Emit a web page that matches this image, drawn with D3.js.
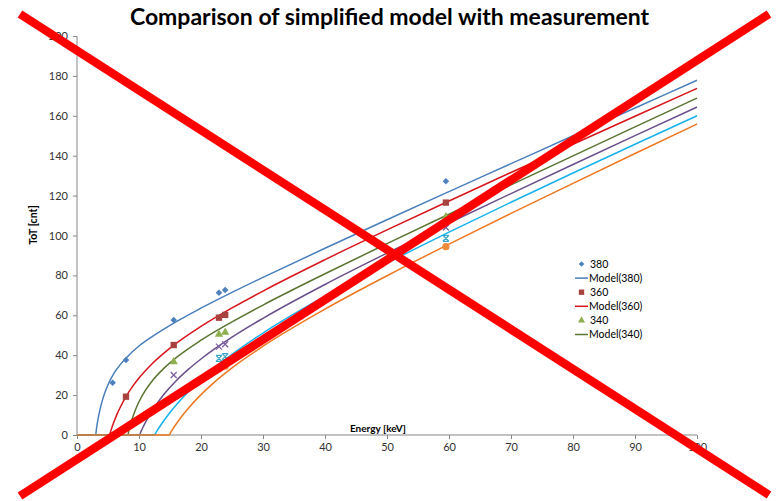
<!DOCTYPE html>
<html>
<head>
<meta charset="utf-8">
<script src="https://cdn.jsdelivr.net/npm/d3@7"></script>
<style>
  html, body { margin: 0; padding: 0; background: #fff; }
  svg { display: block; font-family: Lato, "Open Sans", sans-serif; }
</style>
</head>
<body>
<svg id="chart" width="777" height="501"></svg>
<script>
// ---- data -------------------------------------------------------------
const chartTitle = "Comparison of simplified model with measurement";
const xLabel = "Energy [keV]";
const yLabel = "ToT [cnt]";
const xTicks = [0, 10, 20, 30, 40, 50, 60, 70, 80, 90, 100];
const yTicks = [0, 20, 40, 60, 80, 100, 120, 140, 160, 180, 200];

// measured ToT per energy line [keV, ToT]
const meas380 = [[5.75, 26.2], [7.9, 37.6], [15.6, 57.6], [22.9, 71.3], [23.9, 72.7], [59.5, 127.2]];
const meas360 = [[7.9, 19.2], [15.6, 45.1], [22.9, 58.8], [23.9, 60.2], [59.5, 116.5]];
const meas340 = [[15.6, 36.7], [22.9, 50.5], [23.9, 51.5], [59.5, 109.4]];
const meas320 = [[15.6, 30.1], [22.9, 44.3], [23.9, 45.5], [59.5, 104.0]];
const meas300 = [[22.9, 38.4], [23.9, 39.3], [59.5, 98.6]];
const meas280 = [[22.9, 33.5], [23.9, 34.5], [59.5, 94.4]];

// model curves [keV, ToT]
const model380 = [[0, 0], [3.0, 0], [3.15, 3.35], [3.3, 6.27], [3.5, 9.67], [3.7, 12.6], [4.0, 16.34], [4.5, 21.3],
  [5, 25.2], [6, 31.1], [7, 35.4], [8, 38.9], [10, 44.6], [12, 49.1], [15, 55.0], [20, 63.6], [25, 71.5],
  [30, 79.0], [40, 93.6], [50, 107.9], [60, 122.0], [70, 136.0], [80, 150.0], [90, 163.9], [100, 177.8]];
const model360 = [[0, 0], [5.24, 0], [5.4, 1.56], [5.6, 3.44], [5.8, 5.21], [6.0, 6.88], [6.5, 10.69], [7, 14.04],
  [8, 19.74], [9, 24.49], [10, 28.56], [12, 35.35], [15, 43.51], [20, 54.41], [25, 63.69], [30, 72.16],
  [40, 87.88], [50, 102.8], [60, 117.31], [70, 131.59], [80, 145.72], [90, 159.76], [100, 173.73]];
const model340 = [[0, 0], [8.19, 0], [8.4, 2.68], [8.7, 6.07], [9.0, 9.01], [9.5, 13.18], [10, 16.65], [11, 22.22],
  [12, 26.6], [14, 33.4], [16, 38.77], [20, 47.51], [25, 56.72], [30, 65.12], [40, 80.83], [50, 95.93],
  [60, 110.73], [70, 125.38], [80, 139.94], [90, 154.44], [100, 168.89]];
const model320 = [[0, 0], [10.07, 0], [10.3, 1.61], [10.6, 3.61], [11, 6.1], [11.5, 8.96], [12, 11.57], [13, 16.23],
  [14, 20.3], [16, 27.2], [18, 33.0], [20, 38.11], [25, 49.03], [30, 58.5], [40, 75.45], [50, 91.14],
  [60, 106.25], [70, 121.02], [80, 135.59], [90, 150.04], [100, 164.4]];
const model300 = [[0, 0], [12.47, 0], [12.7, 1.1], [13, 2.57], [13.5, 4.91], [14, 7.13], [15, 11.27], [16, 15.05],
  [18, 21.82], [20, 27.79], [22, 33.16], [25, 40.42], [30, 51.11], [40, 69.58], [50, 86.11], [60, 101.67],
  [70, 116.66], [80, 131.31], [90, 145.74], [100, 160.0]];
const model280 = [[0, 0], [14.87, 0], [15.1, 1.18], [15.5, 3.15], [16, 5.49], [17, 9.74], [18, 13.56], [20, 20.25],
  [22, 26.03], [25, 33.63], [30, 44.52], [40, 63.12], [50, 79.83], [60, 95.68], [70, 111.06], [80, 126.16],
  [90, 141.1], [100, 155.9]];

const seriesNames = ["380", "360", "340", "320", "300", "280"];
const measSets = [meas380, meas360, meas340, meas320, meas300, meas280];
const modelSets = [model380, model360, model340, model320, model300, model280];
const lineColors = ["#4A7EBB", "#D7141A", "#5B7431", "#6A4F8C", "#17B2EC", "#EE7720"];
const markerColors = ["#4F81BD", "#A8423F", "#8EB04F", "#7D60A0", "#3CA7C4", "#F08B3A"];
const markerShapes = ["diamond", "square", "triangle", "x", "star", "circle"];
const legendCount = 3; // series listed in the legend box

// ---- layout -----------------------------------------------------------
const svg = d3.select("#chart");
svg.append("rect").attr("width", 777).attr("height", 501).attr("fill", "#fff");

const x = d3.scaleLinear().domain([0, 100]).range([77, 697]);
const y = d3.scaleLinear().domain([0, 200]).range([435, 36]);
const axisColor = "#878787";
const labelColor = "#333";

// title, sized to span the width above the plot
const title = svg.append("text")
  .attr("x", 389.5).attr("y", 25)
  .attr("text-anchor", "middle")
  .attr("font-size", 20).attr("font-weight", "bold")
  .attr("fill", "#000")
  .text(chartTitle);
const titleLen = title.node().getComputedTextLength();
if (titleLen > 0) title.attr("font-size", Math.min(23, 20 * 522 / titleLen));

// y axis
const yAxis = svg.append("g")
  .attr("transform", `translate(${x(0)},0)`)
  .call(d3.axisLeft(y).tickValues(yTicks).tickSize(4).tickPadding(5));
// x axis
const xAxis = svg.append("g")
  .attr("transform", `translate(0,${y(0)})`)
  .call(d3.axisBottom(x).tickValues(xTicks).tickSize(4).tickPadding(4));
[xAxis, yAxis].forEach(g => {
  g.select(".domain").attr("stroke", axisColor).attr("stroke-width", 1);
  g.selectAll(".tick line").attr("stroke", axisColor);
  g.selectAll(".tick text").attr("fill", labelColor).attr("font-size", 11)
    .attr("font-family", "Lato, sans-serif");
});
// axis lines end flush with the outer ticks
xAxis.select(".domain").attr("d", `M${x(0)},0H${x(100)}`);
yAxis.select(".domain").attr("d", `M0,${y(200)}V${y(0)}`);

// axis titles
svg.append("text")
  .attr("x", 378).attr("y", 432)
  .attr("text-anchor", "middle")
  .attr("font-size", 10).attr("font-weight", "bold").attr("fill", "#000")
  .text(xLabel);
svg.append("text")
  .attr("transform", "translate(37,225) rotate(-90)")
  .attr("text-anchor", "middle")
  .attr("font-size", 10.5).attr("font-weight", "bold").attr("fill", "#000")
  .text(yLabel);

// ---- marker drawing ---------------------------------------------------
function drawMarker(g, shape, color, cx, cy, scale) {
  const s = scale || 1;
  if (shape === "diamond") {
    g.append("path").attr("d", d3.symbol(d3.symbolSquare, 22 * s * s)())
      .attr("transform", `translate(${cx},${cy}) rotate(45)`).attr("fill", color);
  } else if (shape === "square") {
    g.append("path").attr("d", d3.symbol(d3.symbolSquare, 40 * s * s)())
      .attr("transform", `translate(${cx},${cy})`).attr("fill", color);
  } else if (shape === "triangle") {
    g.append("path").attr("d", d3.symbol(d3.symbolTriangle, 30 * s * s)())
      .attr("transform", `translate(${cx},${cy})`).attr("fill", color);
  } else if (shape === "x") {
    const r = 3 * s;
    g.append("path").attr("d", `M${cx - r},${cy - r}L${cx + r},${cy + r}M${cx - r},${cy + r}L${cx + r},${cy - r}`)
      .attr("stroke", color).attr("stroke-width", 1.3).attr("fill", "none");
  } else if (shape === "star") {
    const r = 3 * s;
    g.append("path").attr("d", `M${cx - r},${cy - r}L${cx + r},${cy + r}M${cx - r},${cy + r}L${cx + r},${cy - r}M${cx - r},${cy - r}H${cx + r}M${cx - r},${cy + r}H${cx + r}`)
      .attr("stroke", color).attr("stroke-width", 1.3).attr("fill", "none");
  } else {
    g.append("circle").attr("cx", cx).attr("cy", cy).attr("r", 3.6 * s).attr("fill", color);
  }
}

// ---- series -----------------------------------------------------------
const line = d3.line().x(d => x(d[0])).y(d => y(d[1])).curve(d3.curveMonotoneX);
const plot = svg.append("g");
seriesNames.forEach((name, i) => {
  const g = plot.append("g");
  g.append("path").datum(modelSets[i]).attr("d", line)
    .attr("fill", "none").attr("stroke", lineColors[i]).attr("stroke-width", 1.5);
  measSets[i].forEach(d => drawMarker(g, markerShapes[i], markerColors[i], x(d[0]), y(d[1])));
});

// ---- legend -----------------------------------------------------------
const legend = svg.append("g").attr("transform", "translate(575,264)");
const rowStep = 14.1;
for (let i = 0; i < legendCount; i++) {
  const y0 = i * 2 * rowStep;
  drawMarker(legend, markerShapes[i], markerColors[i], 6.5, y0, 0.85);
  legend.append("text").attr("x", 15).attr("y", y0).attr("dy", "0.35em")
    .attr("font-size", 10.5).attr("fill", "#000").text(seriesNames[i]);
  const y1 = y0 + rowStep;
  legend.append("line").attr("x1", 0).attr("x2", 13).attr("y1", y1).attr("y2", y1)
    .attr("stroke", lineColors[i]).attr("stroke-width", 1.5);
  legend.append("text").attr("x", 14).attr("y", y1).attr("dy", "0.35em")
    .attr("font-size", 10.5).attr("fill", "#000").text(`Model(${seriesNames[i]})`);
}

// ---- red cross over the whole figure ----------------------------------
const cross = svg.append("g").attr("stroke", "#FF0000").attr("stroke-width", 8.5);
cross.append("line").attr("x1", 20).attr("y1", 14).attr("x2", 769).attr("y2", 495);
cross.append("line").attr("x1", 769).attr("y1", 14).attr("x2", 20).attr("y2", 496);
</script>
</body>
</html>
